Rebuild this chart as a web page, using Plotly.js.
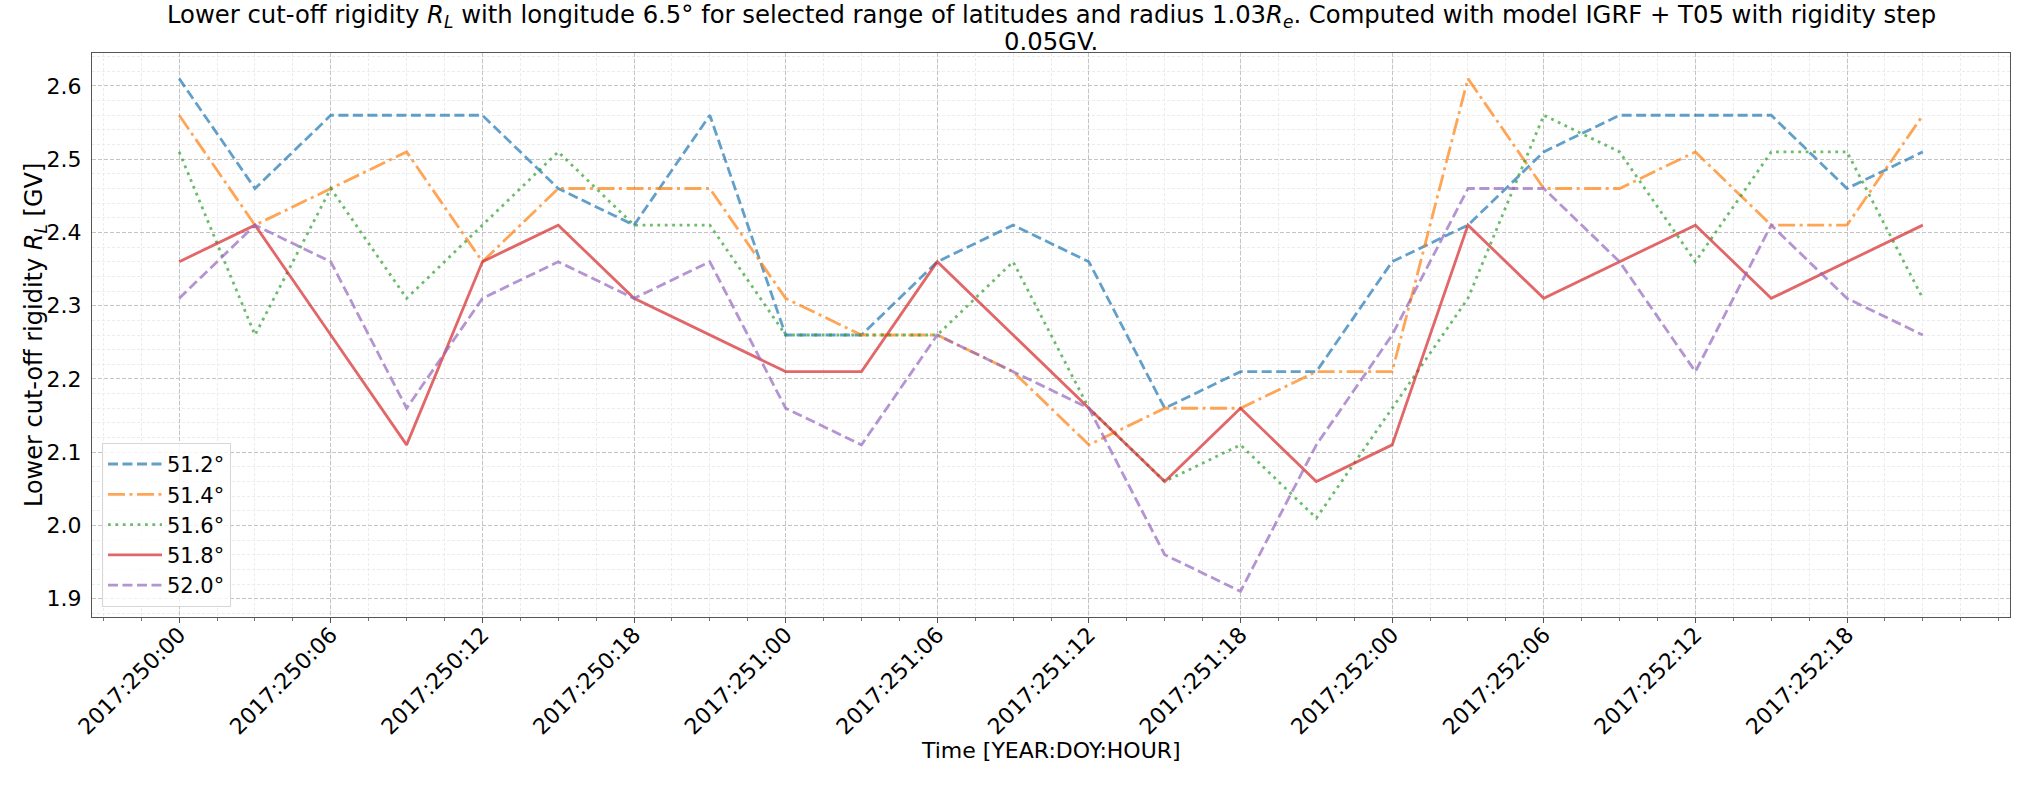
<!DOCTYPE html>
<html>
<head>
<meta charset="utf-8">
<script src="https://cdn.plot.ly/plotly-3.0.1.min.js"></script>
<style>html,body{margin:0;padding:0;background:#fff;}#chart{width:2035px;height:785px;}</style>
</head>
<body>
<div id="chart"></div>
<script>
// Hours since 2017:250:00 (3-hour steps)
const hours = [0, 3, 6, 9, 12, 15, 18, 21, 24, 27, 30, 33, 36, 39, 42, 45, 48, 51, 54, 57, 60, 63, 66, 69];

const tickHours = [0, 6, 12, 18, 24, 30, 36, 42, 48, 54, 60, 66];
const tickLabels = ["2017:250:00", "2017:250:06", "2017:250:12", "2017:250:18",
                    "2017:251:00", "2017:251:06", "2017:251:12", "2017:251:18",
                    "2017:252:00", "2017:252:06", "2017:252:12", "2017:252:18"];

const lat512 = [2.61, 2.46, 2.56, 2.56, 2.56, 2.46, 2.41, 2.56, 2.26, 2.26, 2.36, 2.41, 2.36, 2.16, 2.21, 2.21, 2.36, 2.41, 2.51, 2.56, 2.56, 2.56, 2.46, 2.51];
const lat514 = [2.56, 2.41, 2.46, 2.51, 2.36, 2.46, 2.46, 2.46, 2.31, 2.26, 2.26, 2.21, 2.11, 2.16, 2.16, 2.21, 2.21, 2.61, 2.46, 2.46, 2.51, 2.41, 2.41, 2.56];
const lat516 = [2.51, 2.26, 2.46, 2.31, 2.41, 2.51, 2.41, 2.41, 2.26, 2.26, 2.26, 2.36, 2.16, 2.06, 2.11, 2.01, 2.16, 2.31, 2.56, 2.51, 2.36, 2.51, 2.51, 2.31];
const lat518 = [2.36, 2.41, 2.26, 2.11, 2.36, 2.41, 2.31, 2.26, 2.21, 2.21, 2.36, 2.26, 2.16, 2.06, 2.16, 2.06, 2.11, 2.41, 2.31, 2.36, 2.41, 2.31, 2.36, 2.41];
const lat520 = [2.31, 2.41, 2.36, 2.16, 2.31, 2.36, 2.31, 2.36, 2.16, 2.11, 2.26, 2.21, 2.16, 1.96, 1.91, 2.11, 2.26, 2.46, 2.46, 2.36, 2.21, 2.41, 2.31, 2.26];

const seriesNames = ["51.2°", "51.4°", "51.6°", "51.8°", "52.0°"];
const seriesData = [lat512, lat514, lat516, lat518, lat520];
const colors = ["rgba(31,119,180,0.7)", "rgba(255,127,14,0.7)", "rgba(44,160,44,0.7)", "rgba(214,39,40,0.7)", "rgba(148,103,189,0.7)"];
const dashes = ["10px,4.5px", "17px,4.5px,3px,4.5px", "2.8px,4.6px", "solid", "10px,4.5px"];

const traces = seriesData.map((vals, i) => ({
  x: hours,
  y: vals,
  type: "scatter",
  mode: "lines",
  name: seriesNames[i],
  line: {color: colors[i], width: 2.8, dash: dashes[i]}
}));

const font = "DejaVu Sans, sans-serif";

const titleLine1 = "Lower cut-off rigidity <i>R<sub>L</sub></i> with longitude 6.5° for selected range of latitudes and radius 1.03<i>R<sub>e</sub></i>. Computed with model IGRF + T05 with rigidity step";
const titleLine2 = "0.05GV.";

const layout = {
  width: 2035,
  height: 785,
  paper_bgcolor: "#ffffff",
  plot_bgcolor: "#ffffff",
  margin: {l: 92, r: 25, t: 53, b: 168, pad: 0},
  font: {family: font, size: 21, color: "#000"},
  showlegend: true,
  legend: {
    x: 0.0052, y: 0.018, xanchor: "left", yanchor: "bottom",
    bgcolor: "rgba(255,255,255,0.8)",
    bordercolor: "#d6d6d6", borderwidth: 1,
    font: {family: font, size: 21, color: "#000"},
    itemwidth: 54
  },
  annotations: [
    {
      text: titleLine1, xref: "paper", yref: "paper", x: 0.5, y: 1.0663,
      xanchor: "center", yanchor: "middle", showarrow: false,
      font: {family: font, size: 24.3, color: "#000"}
    },
    {
      text: titleLine2, xref: "paper", yref: "paper", x: 0.5, y: 1.0204,
      xanchor: "center", yanchor: "middle", showarrow: false,
      font: {family: font, size: 24.3, color: "#000"}
    },
    {
      text: "Time [YEAR:DOY:HOUR]", xref: "paper", yref: "paper", x: 0.5, y: -0.236,
      xanchor: "center", yanchor: "middle", showarrow: false,
      font: {family: font, size: 22, color: "#000"}
    },
    {
      text: "Lower cut-off rigidity <i>R<sub>L</sub></i> [GV]", xref: "paper", yref: "paper",
      x: -0.0297, y: 0.5, xanchor: "center", yanchor: "middle", textangle: -90, showarrow: false,
      font: {family: font, size: 24, color: "#000"}
    }
  ],
  xaxis: {
    range: [-3.45, 72.45],
    tickmode: "array",
    tickvals: tickHours,
    ticktext: tickLabels,
    tickangle: -45,
    tickfont: {family: font, size: 22, color: "#000"},
    ticklabelstandoff: -10,
    ticks: "outside", ticklen: 5, tickcolor: "#555", tickwidth: 1,
    showline: true, linecolor: "#555", linewidth: 1.2, mirror: true,
    showgrid: true, gridcolor: "#c4c4c4", gridwidth: 1, griddash: "4px,2px",
    zeroline: false,
    automargin: false,
    minor: {dtick: 1.5, tick0: 0, showgrid: true, gridcolor: "#ececec", gridwidth: 1, griddash: "3px,2px", ticks: "outside", ticklen: 3, tickcolor: "#777"}
  },
  yaxis: {
    range: [1.875, 2.645],
    tickmode: "linear", tick0: 1.9, dtick: 0.1,
    tickformat: ".1f",
    tickfont: {family: font, size: 22, color: "#000"},
    ticks: "", ticklen: 0,
    ticklabelstandoff: 5,
    showline: true, linecolor: "#555", linewidth: 1.2, mirror: true,
    showgrid: true, gridcolor: "#c4c4c4", gridwidth: 1, griddash: "4px,2px",
    zeroline: false,
    automargin: false,
    minor: {dtick: 0.02, tick0: 1.9, showgrid: true, gridcolor: "#ececec", gridwidth: 1, griddash: "3px,2px"}
  }
};

Plotly.newPlot("chart", traces, layout, {displayModeBar: false, staticPlot: true});
</script>
</body>
</html>
